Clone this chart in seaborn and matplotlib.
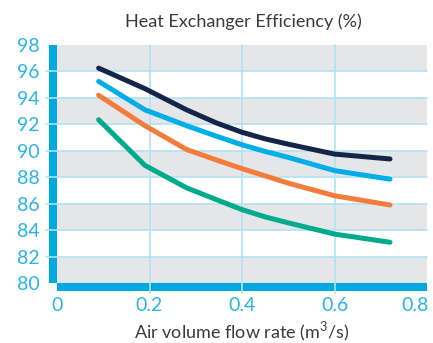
import matplotlib
matplotlib.use("Agg")
import matplotlib.pyplot as plt
import matplotlib.transforms as mtransforms
import seaborn as sns
import pandas as pd

# ---- data ----
flow = [0.09, 0.19, 0.28, 0.345, 0.40, 0.45, 0.50, 0.60, 0.72]
navy_eff = [96.25, 94.7, 93.1, 92.1, 91.4, 90.9, 90.5, 89.75, 89.38]
blue_eff = [95.25, 93.1, 91.9, 91.1, 90.45, 89.95, 89.5, 88.5, 87.85]
orange_eff = [94.2, 91.9, 90.1, 89.3, 88.65, 88.1, 87.55, 86.6, 85.9]
green_eff = [92.35, 88.9, 87.2, 86.3, 85.55, 85.0, 84.55, 83.7, 83.08]
series_names = ["A", "B", "C", "D"]
series_colors = ["#13264a", "#00aee8", "#f47c3b", "#00ab8c"]
xticks = [0, 0.2, 0.4, 0.6, 0.8]
xtick_labels = ["0", "0.2", "0.4", "0.6", "0.8"]
yticks = [80, 82, 84, 86, 88, 90, 92, 94, 96, 98]
title = "Heat Exchanger Efficiency (%)"
xlabel = "Air volume flow rate (m$^3$/s)"

rows = []
for name, vals in zip(series_names, [navy_eff, blue_eff, orange_eff, green_eff]):
    for x, v in zip(flow, vals):
        rows.append({"flow": x, "eff": v, "series": name})
df = pd.DataFrame(rows)

sns.set_theme(style="white")
plt.rcParams["font.family"] = ["Lato", "DejaVu Sans"]
plt.rcParams["mathtext.fontset"] = "custom"
plt.rcParams["mathtext.rm"] = "Lato"

tick_color = "#29b4e8"
tick_size = 14

fig = plt.figure(figsize=(4.33, 3.43), dpi=100)
ax = fig.add_axes([57 / 433, 1 - 283 / 343, 370 / 433, 238 / 343])

# alternating grey bands
for lo in yticks[0:-1:2]:
    ax.axhspan(lo, lo + 2, color="#e5e6e8", lw=0, zorder=0)

grid_c = "#b2e2f4"
trans_x = mtransforms.blended_transform_factory(ax.transData, ax.transAxes)
trans_y = mtransforms.blended_transform_factory(ax.transAxes, ax.transData)
for x in xticks[1:-1]:
    ax.plot([x, x], [-0.04, 1], transform=trans_x, color=grid_c, lw=1.2,
            clip_on=False, zorder=5)
for y in yticks[1:-1]:
    ax.plot([-0.03, 1], [y, y], transform=trans_y, color=grid_c, lw=1.2,
            clip_on=False, zorder=5)

sns.lineplot(data=df, x="flow", y="eff", hue="series", palette=series_colors,
             hue_order=series_names, linewidth=3.6, legend=False, ax=ax,
             zorder=6)
for ln in ax.get_lines():
    ln.set_solid_capstyle("round")
    ln.set_solid_joinstyle("round")

ax.set_xlim(0, 0.8)
ax.set_ylim(80, 98)
ax.set_xticks(xticks)
ax.set_xticklabels(xtick_labels[:-1] + [""])
ax.set_yticks(yticks)
ax.tick_params(axis="both", length=0, colors=tick_color, labelsize=tick_size)
ax.tick_params(axis="x", pad=7.5)
ax.tick_params(axis="y", pad=9.5)
# last x label kept inside the figure (right-aligned at its tick)
ax.annotate(xtick_labels[-1], xy=(xticks[-1], 0), xycoords=trans_x,
            xytext=(1, -10.4), textcoords="offset points", ha="right",
            va="top", color=tick_color, fontsize=tick_size)

for s in ["top", "right"]:
    ax.spines[s].set_visible(False)
for s in ["left", "bottom"]:
    ax.spines[s].set_color("#00a9df")
    ax.spines[s].set_linewidth(5.8)
    ax.spines[s].set_position(("outward", 2.9))
    ax.spines[s].set_zorder(4)
    ax.spines[s].set_capstyle("butt")

ax.set_xlabel(xlabel, fontsize=13, color="#3a3a3a", labelpad=4)
ax.set_ylabel("")
fig.text(243 / 433, 1 - 22 / 343, title, ha="center", va="center",
         fontsize=13, color="#3a3a3a")

fig.savefig("out.png", dpi=100)
